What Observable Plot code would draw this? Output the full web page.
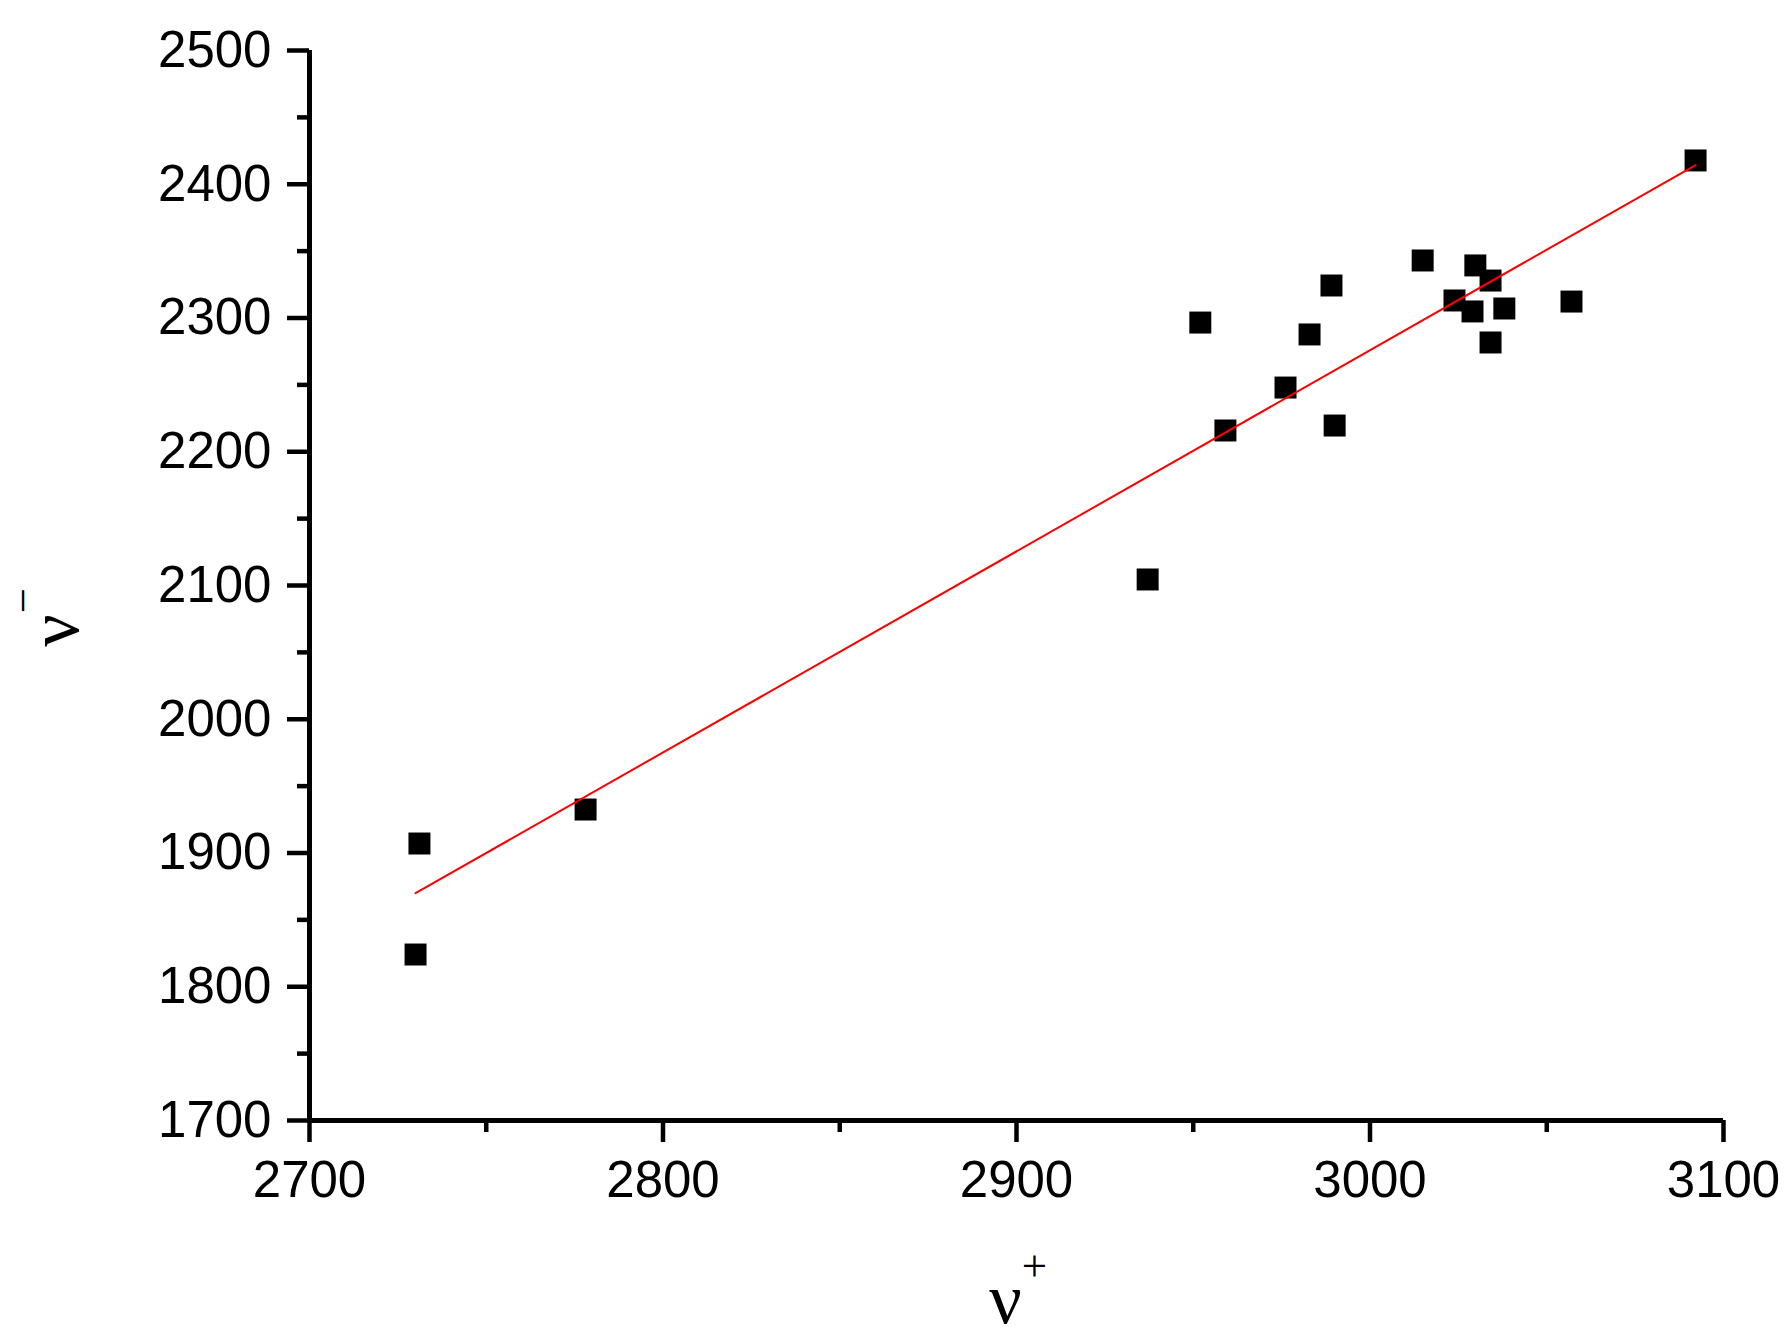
<!DOCTYPE html>
<html>
<head>
<meta charset="utf-8">
<script src="https://cdn.jsdelivr.net/npm/d3@7"></script>
<script src="https://cdn.jsdelivr.net/npm/@observablehq/plot@0.6"></script>
<style>
  html, body { margin: 0; padding: 0; background: #ffffff; }
</style>
</head>
<body>
<div id="chart"></div>
<script>
// ν+ (x) and ν− (y) values
const vPlus  = [2731.1, 2730.0, 2778.1, 2937.1, 2952.0, 2959.1, 2976.1, 2982.9, 2989.1, 2990.0,
                3014.9, 3023.9, 3029.0, 3029.8, 3034.1, 3034.1, 3038.0, 3057.0, 3092.1];
const vMinus = [1907.1, 1824.1, 1932.5, 2104.5, 2296.6, 2215.9, 2248.0, 2287.7, 2324.3, 2219.6,
                2343.0, 2313.1, 2304.9, 2339.3, 2328.0, 2281.7, 2307.1, 2312.3, 2417.8];

const xMajorTicks = [2700, 2800, 2900, 3000, 3100];
const xMinorTicks = [2750, 2850, 2950, 3050];
const yMajorTicks = [1700, 1800, 1900, 2000, 2100, 2200, 2300, 2400, 2500];
const yMinorTicks = [1750, 1850, 1950, 2050, 2150, 2250, 2350, 2450];

const xLabel = "ν";
const xLabelSup = "+";
const yLabel = "ν";
const yLabelSup = "−";

const points = vPlus.map((x, i) => ({x, y: vMinus[i]}));

const serif = "'Liberation Serif', 'Times New Roman', serif";
const sans = "'Liberation Sans', Arial, sans-serif";

const chart = Plot.plot({
  width: 1791,
  height: 1339,
  marginLeft: 309,
  marginRight: 68,
  marginTop: 50,
  marginBottom: 219,
  x: {domain: [2700, 3100], label: null},
  y: {domain: [1700, 2500], label: null},
  style: {fontFamily: sans, fontSize: "51px", background: "#ffffff", color: "#000000"},
  marks: [
    Plot.axisX({ticks: xMajorTicks, tickSize: 22, tickPadding: 18, strokeWidth: 4.5, tickFormat: d => String(d), label: null, fontSize: 51}),
    Plot.axisX({ticks: xMinorTicks, tickSize: 12, strokeWidth: 4.5, tickFormat: () => "", label: null}),
    Plot.axisY({ticks: yMajorTicks, tickSize: 22, tickPadding: 16, strokeWidth: 4.5, tickFormat: d => String(d), label: null, fontSize: 51}),
    Plot.axisY({ticks: yMinorTicks, tickSize: 12, strokeWidth: 4.5, tickFormat: () => "", label: null}),
    Plot.ruleX([2700], {strokeWidth: 5, stroke: "#000"}),
    Plot.ruleY([1700], {strokeWidth: 5, stroke: "#000"}),
    Plot.dot(points, {x: "x", y: "y", symbol: "square", r: 12.4, fill: "#000", stroke: "none"}),
    Plot.linearRegressionY(points, {x: "x", y: "y", ci: 0, stroke: "#ff0000", strokeWidth: 2}),
    Plot.text([xLabel], {frameAnchor: "bottom", textAnchor: "middle", lineAnchor: "middle", dx: -11, dy: 179, fontSize: 72, fontFamily: serif}),
    Plot.text([xLabelSup], {frameAnchor: "bottom", textAnchor: "middle", lineAnchor: "middle", dx: 18, dy: 146, fontSize: 45, fontFamily: serif}),
    Plot.text([yLabel], {frameAnchor: "left", textAnchor: "middle", lineAnchor: "middle", rotate: -90, dx: -255, dy: 45, fontSize: 72, fontFamily: serif}),
    Plot.text([yLabelSup], {frameAnchor: "left", textAnchor: "middle", lineAnchor: "middle", rotate: -90, dx: -286, dy: 15, fontSize: 45, fontFamily: serif})
  ]
});
document.getElementById("chart").appendChild(chart);
</script>
</body>
</html>
